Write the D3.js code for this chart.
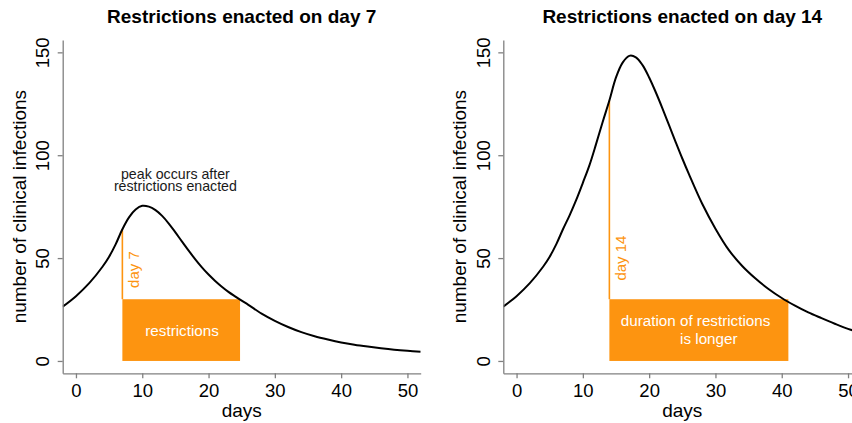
<!DOCTYPE html>
<html>
<head>
<meta charset="utf-8">
<script src="https://cdn.jsdelivr.net/npm/d3@7"></script>
<style>
  body { margin: 0; background: #fff; }
  svg { font-family: "Liberation Sans", Arial, sans-serif; }
</style>
</head>
<body>
<div id="chart"></div>
<script>
const days = [-2, 0, 2, 4, 5, 6, 7, 8, 9, 10, 11, 12, 13, 14, 15, 16, 17, 18, 19, 20,
  21, 22, 23, 24, 25, 26, 28, 30, 32, 34, 36, 38, 40, 42, 44, 46, 48, 50, 52];

// clinical infections, restrictions on day 7
const casesDay7 = [26.4, 31.5, 37.8, 45.8, 50.7, 56.8, 64, 69.8, 73.6, 75.4, 75.0, 73.3, 70.5, 66.8, 62.5, 58.0, 53.6, 49.4, 45.5, 42.0,
  38.9, 36.1, 33.6, 31.4, 29.3, 27.3, 23.0, 19.5, 16.5, 14.0, 12.0, 10.4, 9.0, 7.9, 7.0, 6.2, 5.5, 4.95, 4.5];

// clinical infections, restrictions on day 14
const casesDay14 = [26.4, 31.5, 37.8, 45.8, 50.7, 56.8, 64, 70.8, 78.3, 86.6, 95.2, 105.5, 116.3, 126.6, 137.8, 145.0, 148.3, 147.6, 143.8, 137.8,
  130.6, 122.8, 114.6, 106.4, 98.4, 90.8, 76.4, 64.3, 54.0, 46.3, 40.2, 35.0, 30.6, 26.9, 23.6, 20.8, 18.1, 15.6, 13.6];

const xTicks = [0, 10, 20, 30, 40, 50];
const yTicks = [0, 50, 100, 150];

const titles = ["Restrictions enacted on day 7", "Restrictions enacted on day 14"];
const startDays = [7, 14];
const endDays = [24.75, 41];
const boxTop = 30;

const orange = "#fd9410";
const width = 852, height = 423;

const svg = d3.select("#chart")
    .append("svg")
    .attr("width", width)
    .attr("height", height);

// panel layout
const panels = [
    { left: 62.7, series: casesDay7, dayLabelY: 44.4,
      boxText: [{ t: "restrictions", x: 16, y: 12.1 }],
      note: [{ t: "peak occurs after", x: 15, y: 88.6 }, { t: "restrictions enacted", x: 15, y: 82.5 }] },
    { left: 503.3, series: casesDay14, dayLabelY: 50,
      boxText: [{ t: "duration of restrictions", x: 27, y: 16.9 }, { t: "is longer", x: 29, y: 8.1 }],
      note: [] }
];

const plotW = 358, plotTop = 40, plotBottom = 373.3;

panels.forEach((p, i) => {
    const g = svg.append("g");
    const data = days.map((d, j) => ({ day: d, v: p.series[j] }));

    const x = d3.scaleLinear().domain([-2, 52]).range([p.left, p.left + plotW]);
    const y = d3.scaleLinear().domain([-6, 156]).range([plotBottom, plotTop]);

    // clip for the curve
    g.append("clipPath").attr("id", "clip" + i)
        .append("rect")
        .attr("x", p.left).attr("y", plotTop)
        .attr("width", plotW).attr("height", plotBottom - plotTop);

    // restrictions box
    g.append("rect")
        .attr("x", x(startDays[i]))
        .attr("y", y(boxTop))
        .attr("width", x(endDays[i]) - x(startDays[i]))
        .attr("height", y(0) - y(boxTop))
        .attr("fill", orange);

    // vertical line on the day restrictions start
    const startVal = p.series[days.indexOf(startDays[i])];
    g.append("line")
        .attr("x1", x(startDays[i])).attr("x2", x(startDays[i]))
        .attr("y1", y(boxTop)).attr("y2", y(startVal))
        .attr("stroke", orange)
        .attr("stroke-width", 1.6);

    g.append("text")
        .attr("transform", `translate(${x(startDays[i]) + 17},${y(p.dayLabelY)}) rotate(-90)`)
        .attr("text-anchor", "middle")
        .attr("font-size", 15)
        .attr("fill", orange)
        .text("day " + startDays[i]);

    p.boxText.forEach(b => {
        g.append("text")
            .attr("x", x(b.x)).attr("y", y(b.y))
            .attr("text-anchor", "middle")
            .attr("font-size", 15.2)
            .attr("fill", "#fff")
            .text(b.t);
    });

    p.note.forEach(n => {
        g.append("text")
            .attr("x", x(n.x)).attr("y", y(n.y))
            .attr("text-anchor", "middle")
            .attr("font-size", 14.2)
            .attr("fill", "#1a1a1a")
            .text(n.t);
    });

    // curve
    const line = d3.line()
        .x(d => x(d.day))
        .y(d => y(d.v))
        .curve(d3.curveCatmullRom.alpha(0.5));

    g.append("path")
        .datum(data)
        .attr("clip-path", `url(#clip${i})`)
        .attr("fill", "none")
        .attr("stroke", "#000")
        .attr("stroke-width", 2)
        .attr("d", line);

    // axes
    const xAxis = g.append("g")
        .attr("transform", `translate(0,${plotBottom})`)
        .call(d3.axisBottom(x).tickValues(xTicks).tickSize(5).tickSizeOuter(0).tickPadding(5.6));

    const yAxis = g.append("g")
        .attr("transform", `translate(${p.left},0)`)
        .call(d3.axisLeft(y).tickValues(yTicks).tickSize(5).tickSizeOuter(0));

    [xAxis, yAxis].forEach(a => {
        a.select(".domain").attr("stroke", "#808080").attr("stroke-width", 1.3);
        a.selectAll(".tick line").attr("stroke", "#808080").attr("stroke-width", 1.3);
        a.selectAll(".tick text")
            .attr("fill", "#000")
            .attr("font-size", 18.5)
            .attr("font-family", "Liberation Sans, Arial, sans-serif");
    });

    yAxis.selectAll(".tick text")
        .attr("x", null)
        .attr("text-anchor", "middle")
        .attr("transform", "translate(-20,0) rotate(-90)")
        .attr("dy", "0.36em");

    // axis titles
    g.append("text")
        .attr("x", (x.range()[0] + x.range()[1]) / 2)
        .attr("y", 417)
        .attr("text-anchor", "middle")
        .attr("font-size", 19)
        .text("days");

    g.append("text")
        .attr("transform", `translate(${p.left - 37},${(plotTop + plotBottom) / 2}) rotate(-90)`)
        .attr("text-anchor", "middle")
        .attr("font-size", 19)
        .text("number of clinical infections");

    g.append("text")
        .attr("x", (x.range()[0] + x.range()[1]) / 2)
        .attr("y", 23.3)
        .attr("text-anchor", "middle")
        .attr("font-size", 19)
        .attr("font-weight", "bold")
        .text(titles[i]);
});
</script>
</body>
</html>
